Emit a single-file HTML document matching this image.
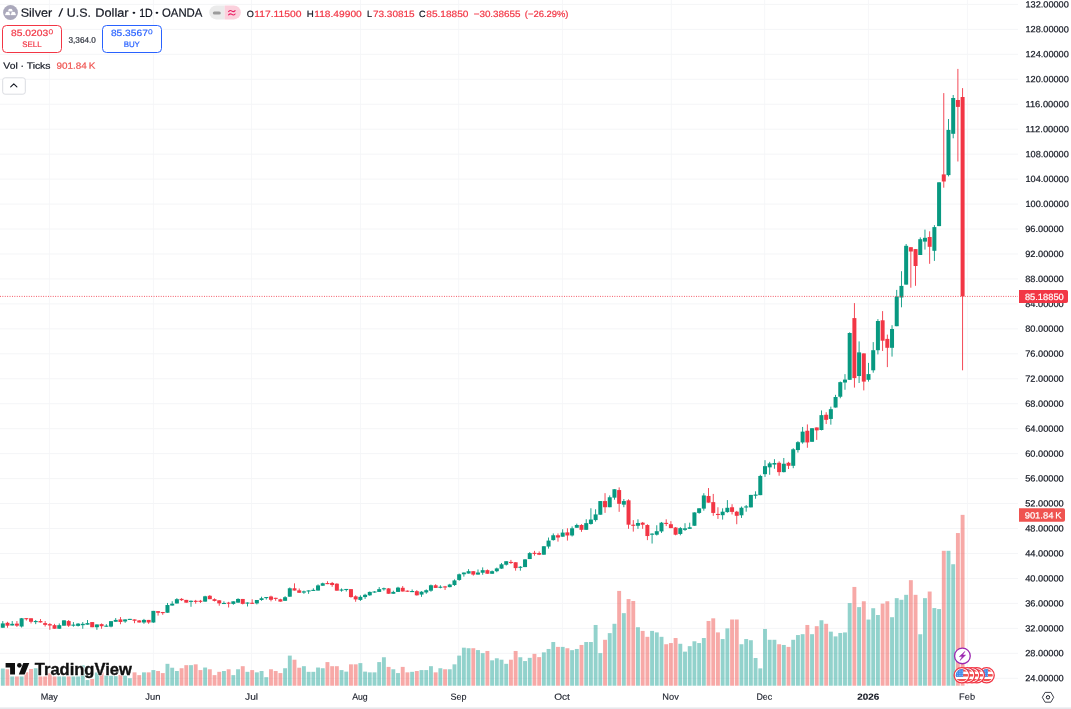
<!DOCTYPE html>
<html><head><meta charset="utf-8"><title>Silver / U.S. Dollar</title>
<style>html,body{margin:0;padding:0;background:#fff;overflow:hidden}svg{display:block;filter:blur(0.3px)}</style>
</head><body>
<svg width="1071" height="709" viewBox="0 0 1071 709" font-family="'Liberation Sans', Arial, sans-serif">
<rect width="1071" height="709" fill="#fff"/>
<g stroke="#f4f5f7" stroke-width="1">
<line x1="49.4" y1="0" x2="49.4" y2="685.7" stroke="#f6f7f9"/>
<line x1="153.4" y1="0" x2="153.4" y2="685.7" stroke="#f6f7f9"/>
<line x1="251.6" y1="0" x2="251.6" y2="685.7" stroke="#f6f7f9"/>
<line x1="360.5" y1="0" x2="360.5" y2="685.7" stroke="#f6f7f9"/>
<line x1="458.7" y1="0" x2="458.7" y2="685.7" stroke="#f6f7f9"/>
<line x1="562.4" y1="0" x2="562.4" y2="685.7" stroke="#f6f7f9"/>
<line x1="671.3" y1="0" x2="671.3" y2="685.7" stroke="#f6f7f9"/>
<line x1="764.7" y1="0" x2="764.7" y2="685.7" stroke="#f6f7f9"/>
<line x1="868.4" y1="0" x2="868.4" y2="685.7" stroke="#f6f7f9"/>
<line x1="967.4" y1="0" x2="967.4" y2="685.7" stroke="#f6f7f9"/>
<line x1="0" y1="4.4" x2="1018" y2="4.4"/>
<line x1="0" y1="29.36" x2="1018" y2="29.36"/>
<line x1="0" y1="54.32" x2="1018" y2="54.32"/>
<line x1="0" y1="79.28" x2="1018" y2="79.28"/>
<line x1="0" y1="104.24" x2="1018" y2="104.24"/>
<line x1="0" y1="129.19" x2="1018" y2="129.19"/>
<line x1="0" y1="154.15" x2="1018" y2="154.15"/>
<line x1="0" y1="179.11" x2="1018" y2="179.11"/>
<line x1="0" y1="204.07" x2="1018" y2="204.07"/>
<line x1="0" y1="229.03" x2="1018" y2="229.03"/>
<line x1="0" y1="253.99" x2="1018" y2="253.99"/>
<line x1="0" y1="278.95" x2="1018" y2="278.95"/>
<line x1="0" y1="303.91" x2="1018" y2="303.91"/>
<line x1="0" y1="328.87" x2="1018" y2="328.87"/>
<line x1="0" y1="353.83" x2="1018" y2="353.83"/>
<line x1="0" y1="378.78" x2="1018" y2="378.78"/>
<line x1="0" y1="403.74" x2="1018" y2="403.74"/>
<line x1="0" y1="428.7" x2="1018" y2="428.7"/>
<line x1="0" y1="453.66" x2="1018" y2="453.66"/>
<line x1="0" y1="478.62" x2="1018" y2="478.62"/>
<line x1="0" y1="503.58" x2="1018" y2="503.58"/>
<line x1="0" y1="528.54" x2="1018" y2="528.54"/>
<line x1="0" y1="553.5" x2="1018" y2="553.5"/>
<line x1="0" y1="578.46" x2="1018" y2="578.46"/>
<line x1="0" y1="603.42" x2="1018" y2="603.42"/>
<line x1="0" y1="628.38" x2="1018" y2="628.38"/>
<line x1="0" y1="653.33" x2="1018" y2="653.33"/>
<line x1="0" y1="678.29" x2="1018" y2="678.29"/>
</g>
<g>
<rect x="0.85" y="668.55" width="3.9" height="17.15" fill="rgba(38,166,154,0.5)"/>
<rect x="5.55" y="669.27" width="3.9" height="16.43" fill="rgba(239,83,80,0.5)"/>
<rect x="10.26" y="676.46" width="3.9" height="9.24" fill="rgba(38,166,154,0.5)"/>
<rect x="14.96" y="676.46" width="3.9" height="9.24" fill="rgba(239,83,80,0.5)"/>
<rect x="19.67" y="676.46" width="3.9" height="9.24" fill="rgba(38,166,154,0.5)"/>
<rect x="24.37" y="672.2" width="3.9" height="13.5" fill="rgba(239,83,80,0.5)"/>
<rect x="29.08" y="668.96" width="3.9" height="16.74" fill="rgba(239,83,80,0.5)"/>
<rect x="33.78" y="668.24" width="3.9" height="17.46" fill="rgba(38,166,154,0.5)"/>
<rect x="38.49" y="676.46" width="3.9" height="9.24" fill="rgba(239,83,80,0.5)"/>
<rect x="43.19" y="676.46" width="3.9" height="9.24" fill="rgba(239,83,80,0.5)"/>
<rect x="47.9" y="673.3" width="3.9" height="12.4" fill="rgba(239,83,80,0.5)"/>
<rect x="52.6" y="676.46" width="3.9" height="9.24" fill="rgba(239,83,80,0.5)"/>
<rect x="57.31" y="676.46" width="3.9" height="9.24" fill="rgba(38,166,154,0.5)"/>
<rect x="62.01" y="676.46" width="3.9" height="9.24" fill="rgba(38,166,154,0.5)"/>
<rect x="66.72" y="676.46" width="3.9" height="9.24" fill="rgba(239,83,80,0.5)"/>
<rect x="71.42" y="676.46" width="3.9" height="9.24" fill="rgba(38,166,154,0.5)"/>
<rect x="76.13" y="676.46" width="3.9" height="9.24" fill="rgba(38,166,154,0.5)"/>
<rect x="80.83" y="665.3" width="3.9" height="20.4" fill="rgba(38,166,154,0.5)"/>
<rect x="85.54" y="680.06" width="3.9" height="5.64" fill="rgba(38,166,154,0.5)"/>
<rect x="90.24" y="679.03" width="3.9" height="6.67" fill="rgba(239,83,80,0.5)"/>
<rect x="94.95" y="672.5" width="3.9" height="13.2" fill="rgba(38,166,154,0.5)"/>
<rect x="99.65" y="672.5" width="3.9" height="13.2" fill="rgba(239,83,80,0.5)"/>
<rect x="104.36" y="675.5" width="3.9" height="10.2" fill="rgba(38,166,154,0.5)"/>
<rect x="109.06" y="675.74" width="3.9" height="9.96" fill="rgba(38,166,154,0.5)"/>
<rect x="113.77" y="676.15" width="3.9" height="9.55" fill="rgba(38,166,154,0.5)"/>
<rect x="118.47" y="674.9" width="3.9" height="10.8" fill="rgba(239,83,80,0.5)"/>
<rect x="123.18" y="675.6" width="3.9" height="10.1" fill="rgba(38,166,154,0.5)"/>
<rect x="127.88" y="678.21" width="3.9" height="7.49" fill="rgba(38,166,154,0.5)"/>
<rect x="132.59" y="672.35" width="3.9" height="13.35" fill="rgba(239,83,80,0.5)"/>
<rect x="137.29" y="675.13" width="3.9" height="10.57" fill="rgba(239,83,80,0.5)"/>
<rect x="142" y="672.35" width="3.9" height="13.35" fill="rgba(38,166,154,0.5)"/>
<rect x="146.7" y="672.35" width="3.9" height="13.35" fill="rgba(239,83,80,0.5)"/>
<rect x="151.41" y="670.09" width="3.9" height="15.61" fill="rgba(38,166,154,0.5)"/>
<rect x="156.11" y="671.02" width="3.9" height="14.68" fill="rgba(239,83,80,0.5)"/>
<rect x="160.82" y="673.07" width="3.9" height="12.63" fill="rgba(239,83,80,0.5)"/>
<rect x="165.52" y="663.83" width="3.9" height="21.87" fill="rgba(38,166,154,0.5)"/>
<rect x="170.23" y="667.73" width="3.9" height="17.97" fill="rgba(38,166,154,0.5)"/>
<rect x="174.93" y="671.02" width="3.9" height="14.68" fill="rgba(38,166,154,0.5)"/>
<rect x="179.64" y="668.24" width="3.9" height="17.46" fill="rgba(239,83,80,0.5)"/>
<rect x="184.34" y="665.16" width="3.9" height="20.54" fill="rgba(239,83,80,0.5)"/>
<rect x="189.05" y="665.16" width="3.9" height="20.54" fill="rgba(38,166,154,0.5)"/>
<rect x="193.75" y="664.34" width="3.9" height="21.36" fill="rgba(239,83,80,0.5)"/>
<rect x="198.46" y="670.09" width="3.9" height="15.61" fill="rgba(239,83,80,0.5)"/>
<rect x="203.16" y="667.53" width="3.9" height="18.17" fill="rgba(38,166,154,0.5)"/>
<rect x="207.87" y="669.27" width="3.9" height="16.43" fill="rgba(239,83,80,0.5)"/>
<rect x="212.57" y="675.13" width="3.9" height="10.57" fill="rgba(239,83,80,0.5)"/>
<rect x="217.28" y="671.84" width="3.9" height="13.86" fill="rgba(239,83,80,0.5)"/>
<rect x="221.98" y="671.02" width="3.9" height="14.68" fill="rgba(38,166,154,0.5)"/>
<rect x="226.69" y="669.27" width="3.9" height="16.43" fill="rgba(239,83,80,0.5)"/>
<rect x="231.39" y="675.13" width="3.9" height="10.57" fill="rgba(38,166,154,0.5)"/>
<rect x="236.1" y="669.27" width="3.9" height="16.43" fill="rgba(38,166,154,0.5)"/>
<rect x="240.8" y="666.19" width="3.9" height="19.51" fill="rgba(239,83,80,0.5)"/>
<rect x="245.5" y="671.84" width="3.9" height="13.86" fill="rgba(38,166,154,0.5)"/>
<rect x="250.21" y="670.09" width="3.9" height="15.61" fill="rgba(239,83,80,0.5)"/>
<rect x="254.91" y="672.35" width="3.9" height="13.35" fill="rgba(38,166,154,0.5)"/>
<rect x="259.62" y="671.02" width="3.9" height="14.68" fill="rgba(38,166,154,0.5)"/>
<rect x="264.32" y="677.18" width="3.9" height="8.52" fill="rgba(38,166,154,0.5)"/>
<rect x="269.03" y="669.27" width="3.9" height="16.43" fill="rgba(239,83,80,0.5)"/>
<rect x="273.73" y="671.02" width="3.9" height="14.68" fill="rgba(239,83,80,0.5)"/>
<rect x="278.44" y="673.07" width="3.9" height="12.63" fill="rgba(239,83,80,0.5)"/>
<rect x="283.14" y="668.24" width="3.9" height="17.46" fill="rgba(38,166,154,0.5)"/>
<rect x="287.85" y="655.61" width="3.9" height="30.09" fill="rgba(38,166,154,0.5)"/>
<rect x="292.55" y="659.72" width="3.9" height="25.98" fill="rgba(239,83,80,0.5)"/>
<rect x="297.26" y="667.73" width="3.9" height="17.97" fill="rgba(239,83,80,0.5)"/>
<rect x="301.96" y="666.19" width="3.9" height="19.51" fill="rgba(38,166,154,0.5)"/>
<rect x="306.67" y="671.84" width="3.9" height="13.86" fill="rgba(38,166,154,0.5)"/>
<rect x="311.37" y="671.84" width="3.9" height="13.86" fill="rgba(38,166,154,0.5)"/>
<rect x="316.08" y="667.53" width="3.9" height="18.17" fill="rgba(38,166,154,0.5)"/>
<rect x="320.78" y="668.24" width="3.9" height="17.46" fill="rgba(38,166,154,0.5)"/>
<rect x="325.49" y="662.08" width="3.9" height="23.62" fill="rgba(239,83,80,0.5)"/>
<rect x="330.19" y="666.19" width="3.9" height="19.51" fill="rgba(239,83,80,0.5)"/>
<rect x="334.9" y="666.19" width="3.9" height="19.51" fill="rgba(239,83,80,0.5)"/>
<rect x="339.6" y="670.09" width="3.9" height="15.61" fill="rgba(38,166,154,0.5)"/>
<rect x="344.31" y="671.63" width="3.9" height="14.07" fill="rgba(38,166,154,0.5)"/>
<rect x="349.01" y="664.34" width="3.9" height="21.36" fill="rgba(239,83,80,0.5)"/>
<rect x="353.72" y="664.34" width="3.9" height="21.36" fill="rgba(239,83,80,0.5)"/>
<rect x="358.42" y="663.11" width="3.9" height="22.59" fill="rgba(38,166,154,0.5)"/>
<rect x="363.13" y="671.63" width="3.9" height="14.07" fill="rgba(38,166,154,0.5)"/>
<rect x="367.83" y="672.35" width="3.9" height="13.35" fill="rgba(38,166,154,0.5)"/>
<rect x="372.54" y="672.35" width="3.9" height="13.35" fill="rgba(38,166,154,0.5)"/>
<rect x="377.24" y="662.08" width="3.9" height="23.62" fill="rgba(38,166,154,0.5)"/>
<rect x="381.95" y="657.25" width="3.9" height="28.45" fill="rgba(38,166,154,0.5)"/>
<rect x="386.65" y="666.91" width="3.9" height="18.79" fill="rgba(239,83,80,0.5)"/>
<rect x="391.36" y="669.27" width="3.9" height="16.43" fill="rgba(38,166,154,0.5)"/>
<rect x="396.06" y="673.07" width="3.9" height="12.63" fill="rgba(38,166,154,0.5)"/>
<rect x="400.77" y="666.91" width="3.9" height="18.79" fill="rgba(239,83,80,0.5)"/>
<rect x="405.47" y="672.35" width="3.9" height="13.35" fill="rgba(239,83,80,0.5)"/>
<rect x="410.18" y="671.84" width="3.9" height="13.86" fill="rgba(38,166,154,0.5)"/>
<rect x="414.88" y="671.02" width="3.9" height="14.68" fill="rgba(239,83,80,0.5)"/>
<rect x="419.59" y="670.09" width="3.9" height="15.61" fill="rgba(38,166,154,0.5)"/>
<rect x="424.29" y="670.09" width="3.9" height="15.61" fill="rgba(38,166,154,0.5)"/>
<rect x="429" y="666.19" width="3.9" height="19.51" fill="rgba(38,166,154,0.5)"/>
<rect x="433.7" y="672.35" width="3.9" height="13.35" fill="rgba(239,83,80,0.5)"/>
<rect x="438.41" y="668.24" width="3.9" height="17.46" fill="rgba(38,166,154,0.5)"/>
<rect x="443.11" y="669.27" width="3.9" height="16.43" fill="rgba(239,83,80,0.5)"/>
<rect x="447.82" y="669.27" width="3.9" height="16.43" fill="rgba(38,166,154,0.5)"/>
<rect x="452.52" y="664.34" width="3.9" height="21.36" fill="rgba(38,166,154,0.5)"/>
<rect x="457.23" y="655.61" width="3.9" height="30.09" fill="rgba(38,166,154,0.5)"/>
<rect x="461.93" y="647.7" width="3.9" height="38" fill="rgba(38,166,154,0.5)"/>
<rect x="466.64" y="648.22" width="3.9" height="37.48" fill="rgba(38,166,154,0.5)"/>
<rect x="471.34" y="648.22" width="3.9" height="37.48" fill="rgba(239,83,80,0.5)"/>
<rect x="476.04" y="650.07" width="3.9" height="35.63" fill="rgba(38,166,154,0.5)"/>
<rect x="480.75" y="653.15" width="3.9" height="32.55" fill="rgba(38,166,154,0.5)"/>
<rect x="485.45" y="650.99" width="3.9" height="34.71" fill="rgba(239,83,80,0.5)"/>
<rect x="490.16" y="660.34" width="3.9" height="25.36" fill="rgba(38,166,154,0.5)"/>
<rect x="494.86" y="658.28" width="3.9" height="27.42" fill="rgba(38,166,154,0.5)"/>
<rect x="499.57" y="659.72" width="3.9" height="25.98" fill="rgba(38,166,154,0.5)"/>
<rect x="504.27" y="663.83" width="3.9" height="21.87" fill="rgba(38,166,154,0.5)"/>
<rect x="508.98" y="659.72" width="3.9" height="25.98" fill="rgba(239,83,80,0.5)"/>
<rect x="513.68" y="650.99" width="3.9" height="34.71" fill="rgba(239,83,80,0.5)"/>
<rect x="518.39" y="657.25" width="3.9" height="28.45" fill="rgba(38,166,154,0.5)"/>
<rect x="523.09" y="661.06" width="3.9" height="24.64" fill="rgba(38,166,154,0.5)"/>
<rect x="527.8" y="657.86" width="3.9" height="27.84" fill="rgba(38,166,154,0.5)"/>
<rect x="532.5" y="653.86" width="3.9" height="31.84" fill="rgba(239,83,80,0.5)"/>
<rect x="537.21" y="657.12" width="3.9" height="28.58" fill="rgba(239,83,80,0.5)"/>
<rect x="541.91" y="652.38" width="3.9" height="33.32" fill="rgba(38,166,154,0.5)"/>
<rect x="546.62" y="648.98" width="3.9" height="36.72" fill="rgba(38,166,154,0.5)"/>
<rect x="551.32" y="642.02" width="3.9" height="43.68" fill="rgba(38,166,154,0.5)"/>
<rect x="556.03" y="646.9" width="3.9" height="38.8" fill="rgba(239,83,80,0.5)"/>
<rect x="560.73" y="646.9" width="3.9" height="38.8" fill="rgba(38,166,154,0.5)"/>
<rect x="565.44" y="648.24" width="3.9" height="37.46" fill="rgba(239,83,80,0.5)"/>
<rect x="570.14" y="650.16" width="3.9" height="35.54" fill="rgba(38,166,154,0.5)"/>
<rect x="574.85" y="648.98" width="3.9" height="36.72" fill="rgba(38,166,154,0.5)"/>
<rect x="579.55" y="644.98" width="3.9" height="40.72" fill="rgba(239,83,80,0.5)"/>
<rect x="584.26" y="642.02" width="3.9" height="43.68" fill="rgba(38,166,154,0.5)"/>
<rect x="588.96" y="642.02" width="3.9" height="43.68" fill="rgba(38,166,154,0.5)"/>
<rect x="593.67" y="624.99" width="3.9" height="60.71" fill="rgba(38,166,154,0.5)"/>
<rect x="598.37" y="653.12" width="3.9" height="32.58" fill="rgba(38,166,154,0.5)"/>
<rect x="603.08" y="639.8" width="3.9" height="45.9" fill="rgba(239,83,80,0.5)"/>
<rect x="607.78" y="633.13" width="3.9" height="52.57" fill="rgba(38,166,154,0.5)"/>
<rect x="612.49" y="623.8" width="3.9" height="61.9" fill="rgba(38,166,154,0.5)"/>
<rect x="617.19" y="590.92" width="3.9" height="94.78" fill="rgba(239,83,80,0.5)"/>
<rect x="621.9" y="613.14" width="3.9" height="72.56" fill="rgba(38,166,154,0.5)"/>
<rect x="626.6" y="599.07" width="3.9" height="86.63" fill="rgba(239,83,80,0.5)"/>
<rect x="631.31" y="600.99" width="3.9" height="84.71" fill="rgba(239,83,80,0.5)"/>
<rect x="636.01" y="627.21" width="3.9" height="58.49" fill="rgba(38,166,154,0.5)"/>
<rect x="640.72" y="630.91" width="3.9" height="54.79" fill="rgba(239,83,80,0.5)"/>
<rect x="645.42" y="636.83" width="3.9" height="48.87" fill="rgba(239,83,80,0.5)"/>
<rect x="650.13" y="630.91" width="3.9" height="54.79" fill="rgba(38,166,154,0.5)"/>
<rect x="654.83" y="632.39" width="3.9" height="53.31" fill="rgba(38,166,154,0.5)"/>
<rect x="659.54" y="636.83" width="3.9" height="48.87" fill="rgba(38,166,154,0.5)"/>
<rect x="664.24" y="644.24" width="3.9" height="41.46" fill="rgba(239,83,80,0.5)"/>
<rect x="668.95" y="643.05" width="3.9" height="42.65" fill="rgba(239,83,80,0.5)"/>
<rect x="673.65" y="638.02" width="3.9" height="47.68" fill="rgba(239,83,80,0.5)"/>
<rect x="678.36" y="643.79" width="3.9" height="41.91" fill="rgba(38,166,154,0.5)"/>
<rect x="683.06" y="651.64" width="3.9" height="34.06" fill="rgba(38,166,154,0.5)"/>
<rect x="687.77" y="646.16" width="3.9" height="39.54" fill="rgba(38,166,154,0.5)"/>
<rect x="692.47" y="641.28" width="3.9" height="44.42" fill="rgba(38,166,154,0.5)"/>
<rect x="697.18" y="643.05" width="3.9" height="42.65" fill="rgba(38,166,154,0.5)"/>
<rect x="701.88" y="638.02" width="3.9" height="47.68" fill="rgba(38,166,154,0.5)"/>
<rect x="706.58" y="620.99" width="3.9" height="64.71" fill="rgba(239,83,80,0.5)"/>
<rect x="711.29" y="618.32" width="3.9" height="67.38" fill="rgba(239,83,80,0.5)"/>
<rect x="715.99" y="632.39" width="3.9" height="53.31" fill="rgba(239,83,80,0.5)"/>
<rect x="720.7" y="639.06" width="3.9" height="46.64" fill="rgba(38,166,154,0.5)"/>
<rect x="725.4" y="628.39" width="3.9" height="57.31" fill="rgba(38,166,154,0.5)"/>
<rect x="730.11" y="619.51" width="3.9" height="66.19" fill="rgba(239,83,80,0.5)"/>
<rect x="734.81" y="619.51" width="3.9" height="66.19" fill="rgba(239,83,80,0.5)"/>
<rect x="739.52" y="644.24" width="3.9" height="41.46" fill="rgba(38,166,154,0.5)"/>
<rect x="744.22" y="639.06" width="3.9" height="46.64" fill="rgba(38,166,154,0.5)"/>
<rect x="748.93" y="640.24" width="3.9" height="45.46" fill="rgba(38,166,154,0.5)"/>
<rect x="753.63" y="658.01" width="3.9" height="27.69" fill="rgba(38,166,154,0.5)"/>
<rect x="758.34" y="668.38" width="3.9" height="17.32" fill="rgba(38,166,154,0.5)"/>
<rect x="763.04" y="628.98" width="3.9" height="56.72" fill="rgba(38,166,154,0.5)"/>
<rect x="767.75" y="639.8" width="3.9" height="45.9" fill="rgba(38,166,154,0.5)"/>
<rect x="772.45" y="639.8" width="3.9" height="45.9" fill="rgba(38,166,154,0.5)"/>
<rect x="777.16" y="644.24" width="3.9" height="41.46" fill="rgba(239,83,80,0.5)"/>
<rect x="781.86" y="644.98" width="3.9" height="40.72" fill="rgba(38,166,154,0.5)"/>
<rect x="786.57" y="646.9" width="3.9" height="38.8" fill="rgba(239,83,80,0.5)"/>
<rect x="791.27" y="639.8" width="3.9" height="45.9" fill="rgba(38,166,154,0.5)"/>
<rect x="795.98" y="635.06" width="3.9" height="50.64" fill="rgba(38,166,154,0.5)"/>
<rect x="800.68" y="634.17" width="3.9" height="51.53" fill="rgba(38,166,154,0.5)"/>
<rect x="805.39" y="624.99" width="3.9" height="60.71" fill="rgba(239,83,80,0.5)"/>
<rect x="810.09" y="634.17" width="3.9" height="51.53" fill="rgba(38,166,154,0.5)"/>
<rect x="814.8" y="626.17" width="3.9" height="59.53" fill="rgba(239,83,80,0.5)"/>
<rect x="819.5" y="620.25" width="3.9" height="65.45" fill="rgba(38,166,154,0.5)"/>
<rect x="824.21" y="623.8" width="3.9" height="61.9" fill="rgba(239,83,80,0.5)"/>
<rect x="828.91" y="631.65" width="3.9" height="54.05" fill="rgba(38,166,154,0.5)"/>
<rect x="833.62" y="636.39" width="3.9" height="49.31" fill="rgba(38,166,154,0.5)"/>
<rect x="838.32" y="632.98" width="3.9" height="52.72" fill="rgba(38,166,154,0.5)"/>
<rect x="843.03" y="632.43" width="3.9" height="53.27" fill="rgba(38,166,154,0.5)"/>
<rect x="847.73" y="603.09" width="3.9" height="82.61" fill="rgba(38,166,154,0.5)"/>
<rect x="852.44" y="586.95" width="3.9" height="98.75" fill="rgba(239,83,80,0.5)"/>
<rect x="857.14" y="607.12" width="3.9" height="78.58" fill="rgba(38,166,154,0.5)"/>
<rect x="861.85" y="601.26" width="3.9" height="84.44" fill="rgba(239,83,80,0.5)"/>
<rect x="866.55" y="619.59" width="3.9" height="66.11" fill="rgba(38,166,154,0.5)"/>
<rect x="871.26" y="608.22" width="3.9" height="77.48" fill="rgba(38,166,154,0.5)"/>
<rect x="875.96" y="615.01" width="3.9" height="70.69" fill="rgba(38,166,154,0.5)"/>
<rect x="880.67" y="603.64" width="3.9" height="82.06" fill="rgba(239,83,80,0.5)"/>
<rect x="885.37" y="601.26" width="3.9" height="84.44" fill="rgba(239,83,80,0.5)"/>
<rect x="890.08" y="617.21" width="3.9" height="68.49" fill="rgba(38,166,154,0.5)"/>
<rect x="894.78" y="598.14" width="3.9" height="87.56" fill="rgba(38,166,154,0.5)"/>
<rect x="899.49" y="599.79" width="3.9" height="85.91" fill="rgba(38,166,154,0.5)"/>
<rect x="904.19" y="594.84" width="3.9" height="90.86" fill="rgba(38,166,154,0.5)"/>
<rect x="908.9" y="580.17" width="3.9" height="105.53" fill="rgba(239,83,80,0.5)"/>
<rect x="913.6" y="594.84" width="3.9" height="90.86" fill="rgba(239,83,80,0.5)"/>
<rect x="918.31" y="634.26" width="3.9" height="51.44" fill="rgba(38,166,154,0.5)"/>
<rect x="923.01" y="598.14" width="3.9" height="87.56" fill="rgba(38,166,154,0.5)"/>
<rect x="927.72" y="591.54" width="3.9" height="94.16" fill="rgba(239,83,80,0.5)"/>
<rect x="932.42" y="608.07" width="3.9" height="77.63" fill="rgba(38,166,154,0.5)"/>
<rect x="937.13" y="609.06" width="3.9" height="76.64" fill="rgba(38,166,154,0.5)"/>
<rect x="941.83" y="550.81" width="3.9" height="134.89" fill="rgba(239,83,80,0.5)"/>
<rect x="946.53" y="550.81" width="3.9" height="134.89" fill="rgba(38,166,154,0.5)"/>
<rect x="951.24" y="564.24" width="3.9" height="121.46" fill="rgba(38,166,154,0.5)"/>
<rect x="955.94" y="533.04" width="3.9" height="152.66" fill="rgba(239,83,80,0.5)"/>
<rect x="960.65" y="514.87" width="3.9" height="170.83" fill="rgba(239,83,80,0.5)"/>
</g>
<g>
<rect x="2.35" y="621.06" width="0.9" height="6.68" fill="#089981"/>
<rect x="0.8" y="623.42" width="4" height="4.31" fill="#089981"/>
<rect x="7.05" y="621.77" width="0.9" height="5.96" fill="#f23645"/>
<rect x="5.5" y="622.8" width="4" height="2.88" fill="#f23645"/>
<rect x="11.76" y="621.06" width="0.9" height="4.42" fill="#089981"/>
<rect x="10.21" y="623.83" width="4" height="1.64" fill="#089981"/>
<rect x="16.46" y="621.06" width="0.9" height="5.85" fill="#f23645"/>
<rect x="14.91" y="623.62" width="4" height="2.05" fill="#f23645"/>
<rect x="21.17" y="617.97" width="0.9" height="9.55" fill="#089981"/>
<rect x="19.62" y="618.28" width="4" height="8.22" fill="#089981"/>
<rect x="25.87" y="618.14" width="0.9" height="2.4" fill="#f23645"/>
<rect x="24.32" y="618.14" width="4" height="1.1" fill="#f23645"/>
<rect x="30.58" y="618.28" width="0.9" height="5.14" fill="#f23645"/>
<rect x="29.03" y="618.28" width="4" height="3.49" fill="#f23645"/>
<rect x="35.28" y="620.03" width="0.9" height="4.11" fill="#089981"/>
<rect x="33.73" y="621.02" width="4" height="1.1" fill="#089981"/>
<rect x="39.99" y="619" width="0.9" height="3.59" fill="#f23645"/>
<rect x="38.44" y="621.06" width="4" height="1.34" fill="#f23645"/>
<rect x="44.69" y="621.06" width="0.9" height="5.44" fill="#f23645"/>
<rect x="43.14" y="623.11" width="4" height="1.75" fill="#f23645"/>
<rect x="49.4" y="623.11" width="0.9" height="6.68" fill="#f23645"/>
<rect x="47.85" y="624.14" width="4" height="1.34" fill="#f23645"/>
<rect x="54.1" y="623.83" width="0.9" height="4.93" fill="#f23645"/>
<rect x="52.55" y="625.16" width="4" height="3.59" fill="#f23645"/>
<rect x="58.81" y="623.42" width="0.9" height="5.34" fill="#089981"/>
<rect x="57.26" y="625.16" width="4" height="3.59" fill="#089981"/>
<rect x="63.51" y="620.34" width="0.9" height="5.34" fill="#089981"/>
<rect x="61.96" y="620.34" width="4" height="5.34" fill="#089981"/>
<rect x="68.22" y="620.03" width="0.9" height="6.88" fill="#f23645"/>
<rect x="66.67" y="621.06" width="4" height="4.62" fill="#f23645"/>
<rect x="72.92" y="622.08" width="0.9" height="4.62" fill="#089981"/>
<rect x="71.37" y="624.61" width="4" height="1.1" fill="#089981"/>
<rect x="77.63" y="623.11" width="0.9" height="3.39" fill="#089981"/>
<rect x="76.08" y="623.62" width="4" height="2.26" fill="#089981"/>
<rect x="82.33" y="622.08" width="0.9" height="6.68" fill="#089981"/>
<rect x="80.78" y="623.83" width="4" height="1.34" fill="#089981"/>
<rect x="87.04" y="620.03" width="0.9" height="4.62" fill="#089981"/>
<rect x="85.49" y="623.11" width="4" height="1.54" fill="#089981"/>
<rect x="91.74" y="622.08" width="0.9" height="5.14" fill="#f23645"/>
<rect x="90.19" y="622.08" width="4" height="5.14" fill="#f23645"/>
<rect x="96.45" y="624.44" width="0.9" height="5.34" fill="#089981"/>
<rect x="94.9" y="624.44" width="4" height="2.77" fill="#089981"/>
<rect x="101.15" y="623.42" width="0.9" height="5.34" fill="#f23645"/>
<rect x="99.6" y="624.14" width="4" height="2.05" fill="#f23645"/>
<rect x="105.86" y="624.14" width="0.9" height="2.6" fill="#089981"/>
<rect x="104.31" y="625.64" width="4" height="1.1" fill="#089981"/>
<rect x="110.56" y="621.15" width="0.9" height="6.16" fill="#089981"/>
<rect x="109.01" y="621.15" width="4" height="5.44" fill="#089981"/>
<rect x="115.27" y="618.07" width="0.9" height="3.7" fill="#089981"/>
<rect x="113.72" y="619.92" width="4" height="1.85" fill="#089981"/>
<rect x="119.97" y="617.04" width="0.9" height="7.19" fill="#f23645"/>
<rect x="118.42" y="619.41" width="4" height="2.57" fill="#f23645"/>
<rect x="124.68" y="619.41" width="0.9" height="3.39" fill="#089981"/>
<rect x="123.13" y="619.41" width="4" height="2.05" fill="#089981"/>
<rect x="129.38" y="618.86" width="0.9" height="1.1" fill="#089981"/>
<rect x="127.83" y="618.86" width="4" height="1.1" fill="#089981"/>
<rect x="134.09" y="619.41" width="0.9" height="3.8" fill="#f23645"/>
<rect x="132.54" y="619.41" width="4" height="1.34" fill="#f23645"/>
<rect x="138.79" y="620.13" width="0.9" height="2.36" fill="#f23645"/>
<rect x="137.24" y="620.43" width="4" height="2.05" fill="#f23645"/>
<rect x="143.5" y="618.89" width="0.9" height="4.93" fill="#089981"/>
<rect x="141.95" y="619.92" width="4" height="2.57" fill="#089981"/>
<rect x="148.2" y="619.92" width="0.9" height="3.9" fill="#f23645"/>
<rect x="146.65" y="619.92" width="4" height="2.57" fill="#f23645"/>
<rect x="152.91" y="610.88" width="0.9" height="11.91" fill="#089981"/>
<rect x="151.36" y="610.88" width="4" height="11.61" fill="#089981"/>
<rect x="157.61" y="611.19" width="0.9" height="4.42" fill="#f23645"/>
<rect x="156.06" y="611.19" width="4" height="1.54" fill="#f23645"/>
<rect x="162.32" y="611.91" width="0.9" height="2.88" fill="#f23645"/>
<rect x="160.77" y="612.03" width="4" height="1.1" fill="#f23645"/>
<rect x="167.02" y="602.97" width="0.9" height="9.76" fill="#089981"/>
<rect x="165.47" y="605.03" width="4" height="7.7" fill="#089981"/>
<rect x="171.73" y="601.23" width="0.9" height="4.31" fill="#089981"/>
<rect x="170.18" y="603.69" width="4" height="1.85" fill="#089981"/>
<rect x="176.43" y="598.15" width="0.9" height="5.34" fill="#089981"/>
<rect x="174.88" y="599.17" width="4" height="4.31" fill="#089981"/>
<rect x="181.14" y="598.15" width="0.9" height="2.77" fill="#f23645"/>
<rect x="179.59" y="598.87" width="4" height="1.34" fill="#f23645"/>
<rect x="185.84" y="599.89" width="0.9" height="2.77" fill="#f23645"/>
<rect x="184.29" y="599.89" width="4" height="2.77" fill="#f23645"/>
<rect x="190.55" y="600.41" width="0.9" height="6.37" fill="#089981"/>
<rect x="189" y="600.78" width="4" height="1.1" fill="#089981"/>
<rect x="195.25" y="599.89" width="0.9" height="3.8" fill="#f23645"/>
<rect x="193.7" y="600.78" width="4" height="1.1" fill="#f23645"/>
<rect x="199.96" y="599.89" width="0.9" height="3.08" fill="#f23645"/>
<rect x="198.41" y="600.73" width="4" height="1.1" fill="#f23645"/>
<rect x="204.66" y="595.78" width="0.9" height="5.85" fill="#089981"/>
<rect x="203.11" y="596.3" width="4" height="5.34" fill="#089981"/>
<rect x="209.37" y="595.07" width="0.9" height="4.11" fill="#f23645"/>
<rect x="207.82" y="595.78" width="4" height="3.39" fill="#f23645"/>
<rect x="214.07" y="598.35" width="0.9" height="3.08" fill="#f23645"/>
<rect x="212.52" y="599.17" width="4" height="1.75" fill="#f23645"/>
<rect x="218.78" y="600.3" width="0.9" height="5.44" fill="#f23645"/>
<rect x="217.23" y="600.3" width="4" height="3.08" fill="#f23645"/>
<rect x="223.48" y="601.33" width="0.9" height="2.71" fill="#089981"/>
<rect x="221.93" y="602.93" width="4" height="1.1" fill="#089981"/>
<rect x="228.19" y="601.84" width="0.9" height="5.65" fill="#f23645"/>
<rect x="226.64" y="602.62" width="4" height="1.1" fill="#f23645"/>
<rect x="232.89" y="601.33" width="0.9" height="3.39" fill="#089981"/>
<rect x="231.34" y="601.33" width="4" height="2.57" fill="#089981"/>
<rect x="237.6" y="598.24" width="0.9" height="4.42" fill="#089981"/>
<rect x="236.05" y="598.96" width="4" height="3.7" fill="#089981"/>
<rect x="242.3" y="598.96" width="0.9" height="5.44" fill="#f23645"/>
<rect x="240.75" y="598.96" width="4" height="4.93" fill="#f23645"/>
<rect x="247" y="602.35" width="0.9" height="4.11" fill="#089981"/>
<rect x="245.45" y="602.52" width="4" height="1.1" fill="#089981"/>
<rect x="251.71" y="599.27" width="0.9" height="4.62" fill="#f23645"/>
<rect x="250.16" y="602.73" width="4" height="1.1" fill="#f23645"/>
<rect x="256.41" y="599.99" width="0.9" height="4.42" fill="#089981"/>
<rect x="254.86" y="599.99" width="4" height="3.39" fill="#089981"/>
<rect x="261.12" y="596.7" width="0.9" height="4.11" fill="#089981"/>
<rect x="259.57" y="598.24" width="4" height="1.75" fill="#089981"/>
<rect x="265.82" y="597.03" width="0.9" height="2.55" fill="#089981"/>
<rect x="264.27" y="597.03" width="4" height="1.1" fill="#089981"/>
<rect x="270.53" y="595.68" width="0.9" height="5.65" fill="#f23645"/>
<rect x="268.98" y="596.5" width="4" height="3.29" fill="#f23645"/>
<rect x="275.23" y="597.8" width="0.9" height="3.01" fill="#f23645"/>
<rect x="273.68" y="597.8" width="4" height="1.1" fill="#f23645"/>
<rect x="279.94" y="598.76" width="0.9" height="2.88" fill="#f23645"/>
<rect x="278.39" y="599.27" width="4" height="2.36" fill="#f23645"/>
<rect x="284.64" y="596.19" width="0.9" height="4.62" fill="#089981"/>
<rect x="283.09" y="597.22" width="4" height="3.59" fill="#089981"/>
<rect x="289.35" y="587.46" width="0.9" height="9.24" fill="#089981"/>
<rect x="287.8" y="588.28" width="4" height="8.42" fill="#089981"/>
<rect x="294.05" y="583.35" width="0.9" height="7.19" fill="#f23645"/>
<rect x="292.5" y="588.28" width="4" height="2.26" fill="#f23645"/>
<rect x="298.76" y="588.49" width="0.9" height="4.31" fill="#f23645"/>
<rect x="297.21" y="590.34" width="4" height="2.46" fill="#f23645"/>
<rect x="303.46" y="590.54" width="0.9" height="3.29" fill="#089981"/>
<rect x="301.91" y="591.36" width="4" height="1.23" fill="#089981"/>
<rect x="308.17" y="590.4" width="0.9" height="3.43" fill="#089981"/>
<rect x="306.62" y="590.4" width="4" height="1.1" fill="#089981"/>
<rect x="312.87" y="588.28" width="0.9" height="2.66" fill="#089981"/>
<rect x="311.32" y="589.84" width="4" height="1.1" fill="#089981"/>
<rect x="317.58" y="584.38" width="0.9" height="6.16" fill="#089981"/>
<rect x="316.03" y="585.41" width="4" height="5.14" fill="#089981"/>
<rect x="322.28" y="582.67" width="0.9" height="3.08" fill="#089981"/>
<rect x="320.73" y="583.28" width="4" height="2.46" fill="#089981"/>
<rect x="326.99" y="581.23" width="0.9" height="2.91" fill="#f23645"/>
<rect x="325.44" y="583.04" width="4" height="1.1" fill="#f23645"/>
<rect x="331.69" y="581.95" width="0.9" height="4.83" fill="#f23645"/>
<rect x="330.14" y="582.97" width="4" height="2.05" fill="#f23645"/>
<rect x="336.4" y="583.28" width="0.9" height="7.39" fill="#f23645"/>
<rect x="334.85" y="583.69" width="4" height="6.98" fill="#f23645"/>
<rect x="341.1" y="588.42" width="0.9" height="3.29" fill="#089981"/>
<rect x="339.55" y="589.51" width="4" height="1.1" fill="#089981"/>
<rect x="345.81" y="588.95" width="0.9" height="2.55" fill="#089981"/>
<rect x="344.26" y="588.95" width="4" height="1.1" fill="#089981"/>
<rect x="350.51" y="589.14" width="0.9" height="8.52" fill="#f23645"/>
<rect x="348.96" y="589.14" width="4" height="7.91" fill="#f23645"/>
<rect x="355.22" y="595.3" width="0.9" height="6.47" fill="#f23645"/>
<rect x="353.67" y="596.33" width="4" height="3.08" fill="#f23645"/>
<rect x="359.92" y="595.3" width="0.9" height="5.65" fill="#089981"/>
<rect x="358.37" y="596.84" width="4" height="3.08" fill="#089981"/>
<rect x="364.63" y="593.76" width="0.9" height="5.14" fill="#089981"/>
<rect x="363.08" y="594.79" width="4" height="2.26" fill="#089981"/>
<rect x="369.33" y="591.5" width="0.9" height="4.31" fill="#089981"/>
<rect x="367.78" y="591.91" width="4" height="3.39" fill="#089981"/>
<rect x="374.04" y="591.19" width="0.9" height="1.54" fill="#089981"/>
<rect x="372.49" y="591.46" width="4" height="1.1" fill="#089981"/>
<rect x="378.74" y="587.08" width="0.9" height="4.83" fill="#089981"/>
<rect x="377.19" y="589.14" width="4" height="2.77" fill="#089981"/>
<rect x="383.45" y="587.6" width="0.9" height="3.08" fill="#089981"/>
<rect x="381.9" y="588.23" width="4" height="1.1" fill="#089981"/>
<rect x="388.15" y="588.11" width="0.9" height="5.65" fill="#f23645"/>
<rect x="386.6" y="588.42" width="4" height="5.34" fill="#f23645"/>
<rect x="392.86" y="590.68" width="0.9" height="3.08" fill="#089981"/>
<rect x="391.31" y="591.91" width="4" height="1.85" fill="#089981"/>
<rect x="397.56" y="586.77" width="0.9" height="5.14" fill="#089981"/>
<rect x="396.01" y="587.6" width="4" height="4.31" fill="#089981"/>
<rect x="402.27" y="586.06" width="0.9" height="5.44" fill="#f23645"/>
<rect x="400.72" y="587.8" width="4" height="3.7" fill="#f23645"/>
<rect x="406.97" y="590.47" width="0.9" height="1.44" fill="#f23645"/>
<rect x="405.42" y="590.64" width="4" height="1.1" fill="#f23645"/>
<rect x="411.68" y="589.44" width="0.9" height="2.66" fill="#089981"/>
<rect x="410.13" y="591" width="4" height="1.1" fill="#089981"/>
<rect x="416.38" y="590.16" width="0.9" height="5.44" fill="#f23645"/>
<rect x="414.83" y="591.19" width="4" height="4.11" fill="#f23645"/>
<rect x="421.09" y="591.19" width="0.9" height="5.65" fill="#089981"/>
<rect x="419.54" y="591.7" width="4" height="2.88" fill="#089981"/>
<rect x="425.79" y="589.37" width="0.9" height="4.42" fill="#089981"/>
<rect x="424.24" y="590.19" width="4" height="2.26" fill="#089981"/>
<rect x="430.5" y="584.54" width="0.9" height="7.19" fill="#089981"/>
<rect x="428.95" y="585.26" width="4" height="5.44" fill="#089981"/>
<rect x="435.2" y="584.23" width="0.9" height="3.7" fill="#f23645"/>
<rect x="433.65" y="585.26" width="4" height="2.67" fill="#f23645"/>
<rect x="439.91" y="585.26" width="0.9" height="3.08" fill="#089981"/>
<rect x="438.36" y="586.71" width="4" height="1.1" fill="#089981"/>
<rect x="444.61" y="585.88" width="0.9" height="4.11" fill="#f23645"/>
<rect x="443.06" y="586.41" width="4" height="1.1" fill="#f23645"/>
<rect x="449.32" y="583.82" width="0.9" height="3.49" fill="#089981"/>
<rect x="447.77" y="584.54" width="4" height="2.57" fill="#089981"/>
<rect x="454.02" y="579.41" width="0.9" height="6.47" fill="#089981"/>
<rect x="452.47" y="580.43" width="4" height="4.62" fill="#089981"/>
<rect x="458.73" y="573.55" width="0.9" height="7.19" fill="#089981"/>
<rect x="457.18" y="574.27" width="4" height="5.65" fill="#089981"/>
<rect x="463.43" y="572.53" width="0.9" height="4.11" fill="#089981"/>
<rect x="461.88" y="572.53" width="4" height="1.75" fill="#089981"/>
<rect x="468.14" y="569.14" width="0.9" height="4.42" fill="#089981"/>
<rect x="466.59" y="571.19" width="4" height="2.36" fill="#089981"/>
<rect x="472.84" y="571.19" width="0.9" height="4.42" fill="#f23645"/>
<rect x="471.29" y="571.19" width="4" height="3.39" fill="#f23645"/>
<rect x="477.54" y="569.44" width="0.9" height="5.14" fill="#089981"/>
<rect x="475.99" y="572.53" width="4" height="2.05" fill="#089981"/>
<rect x="482.25" y="567.39" width="0.9" height="7.39" fill="#089981"/>
<rect x="480.7" y="570.16" width="4" height="2.57" fill="#089981"/>
<rect x="486.95" y="569.44" width="0.9" height="4.31" fill="#f23645"/>
<rect x="485.4" y="570.16" width="4" height="3.59" fill="#f23645"/>
<rect x="491.66" y="570.47" width="0.9" height="3.29" fill="#089981"/>
<rect x="490.11" y="571.19" width="4" height="2.57" fill="#089981"/>
<rect x="496.36" y="567.6" width="0.9" height="4.62" fill="#089981"/>
<rect x="494.81" y="568.42" width="4" height="2.77" fill="#089981"/>
<rect x="501.07" y="562.97" width="0.9" height="5.85" fill="#089981"/>
<rect x="499.52" y="564.31" width="4" height="4.31" fill="#089981"/>
<rect x="505.77" y="561.23" width="0.9" height="4.31" fill="#089981"/>
<rect x="504.22" y="561.23" width="4" height="3.49" fill="#089981"/>
<rect x="510.48" y="559.89" width="0.9" height="4.11" fill="#f23645"/>
<rect x="508.93" y="561.91" width="4" height="1.1" fill="#f23645"/>
<rect x="515.18" y="562.25" width="0.9" height="8.42" fill="#f23645"/>
<rect x="513.63" y="562.25" width="4" height="5.85" fill="#f23645"/>
<rect x="519.89" y="566.06" width="0.9" height="4.62" fill="#089981"/>
<rect x="518.34" y="566.74" width="4" height="1.1" fill="#089981"/>
<rect x="524.59" y="559.17" width="0.9" height="7.91" fill="#089981"/>
<rect x="523.04" y="559.38" width="4" height="7.7" fill="#089981"/>
<rect x="529.3" y="552.11" width="0.9" height="6.94" fill="#089981"/>
<rect x="527.75" y="553.12" width="4" height="5.92" fill="#089981"/>
<rect x="534" y="550.86" width="0.9" height="4.79" fill="#f23645"/>
<rect x="532.45" y="552.8" width="4" height="1.1" fill="#f23645"/>
<rect x="538.71" y="551.43" width="0.9" height="3.67" fill="#f23645"/>
<rect x="537.16" y="553.01" width="4" height="1.69" fill="#f23645"/>
<rect x="543.41" y="546.24" width="0.9" height="8.46" fill="#089981"/>
<rect x="541.86" y="546.24" width="4" height="8.46" fill="#089981"/>
<rect x="548.12" y="537.52" width="0.9" height="11.09" fill="#089981"/>
<rect x="546.57" y="540.6" width="4" height="5.96" fill="#089981"/>
<rect x="552.82" y="533.41" width="0.9" height="7.19" fill="#089981"/>
<rect x="551.27" y="535.26" width="4" height="4.83" fill="#089981"/>
<rect x="557.53" y="533.41" width="0.9" height="8.22" fill="#f23645"/>
<rect x="555.98" y="535.26" width="4" height="2.26" fill="#f23645"/>
<rect x="562.23" y="529.3" width="0.9" height="7.39" fill="#089981"/>
<rect x="560.68" y="532.59" width="4" height="4.11" fill="#089981"/>
<rect x="566.94" y="528.27" width="0.9" height="12.32" fill="#f23645"/>
<rect x="565.39" y="532.38" width="4" height="3.08" fill="#f23645"/>
<rect x="571.64" y="526.42" width="0.9" height="10.07" fill="#089981"/>
<rect x="570.09" y="528.27" width="4" height="7.19" fill="#089981"/>
<rect x="576.35" y="523.65" width="0.9" height="4.11" fill="#089981"/>
<rect x="574.8" y="524.99" width="4" height="2.77" fill="#089981"/>
<rect x="581.05" y="524.16" width="0.9" height="7.7" fill="#f23645"/>
<rect x="579.5" y="524.99" width="4" height="4.83" fill="#f23645"/>
<rect x="585.76" y="519.23" width="0.9" height="10.58" fill="#089981"/>
<rect x="584.21" y="523.14" width="4" height="6.68" fill="#089981"/>
<rect x="590.46" y="508.24" width="0.9" height="16.43" fill="#089981"/>
<rect x="588.91" y="519.54" width="4" height="4.42" fill="#089981"/>
<rect x="595.17" y="509.27" width="0.9" height="12.32" fill="#089981"/>
<rect x="593.62" y="514.41" width="4" height="5.65" fill="#089981"/>
<rect x="599.87" y="501.06" width="0.9" height="13.66" fill="#089981"/>
<rect x="598.32" y="501.06" width="4" height="13.66" fill="#089981"/>
<rect x="604.58" y="493.15" width="0.9" height="19.72" fill="#f23645"/>
<rect x="603.03" y="501.06" width="4" height="6.16" fill="#f23645"/>
<rect x="609.28" y="495.41" width="0.9" height="11.81" fill="#089981"/>
<rect x="607.73" y="497.25" width="4" height="9.96" fill="#089981"/>
<rect x="613.99" y="489.24" width="0.9" height="10.48" fill="#089981"/>
<rect x="612.44" y="489.24" width="4" height="8.42" fill="#089981"/>
<rect x="618.69" y="487.39" width="0.9" height="24.44" fill="#f23645"/>
<rect x="617.14" y="490.07" width="4" height="13.76" fill="#f23645"/>
<rect x="623.4" y="499" width="0.9" height="8.22" fill="#089981"/>
<rect x="621.85" y="501.06" width="4" height="3.59" fill="#089981"/>
<rect x="628.1" y="499.31" width="0.9" height="29.48" fill="#f23645"/>
<rect x="626.55" y="500.34" width="4" height="24.34" fill="#f23645"/>
<rect x="632.81" y="520.11" width="0.9" height="11.5" fill="#f23645"/>
<rect x="631.26" y="524.7" width="4" height="1.1" fill="#f23645"/>
<rect x="637.51" y="519.29" width="0.9" height="9.55" fill="#089981"/>
<rect x="635.96" y="522.99" width="4" height="2.77" fill="#089981"/>
<rect x="642.22" y="521.96" width="0.9" height="6.88" fill="#f23645"/>
<rect x="640.67" y="522.68" width="4" height="2.05" fill="#f23645"/>
<rect x="646.92" y="524.22" width="0.9" height="15.92" fill="#f23645"/>
<rect x="645.37" y="525.04" width="4" height="10.99" fill="#f23645"/>
<rect x="651.63" y="533.26" width="0.9" height="10.27" fill="#089981"/>
<rect x="650.08" y="533.63" width="4" height="1.1" fill="#089981"/>
<rect x="656.33" y="525.25" width="0.9" height="10.27" fill="#089981"/>
<rect x="654.78" y="531.2" width="4" height="3.49" fill="#089981"/>
<rect x="661.04" y="521.96" width="0.9" height="10.99" fill="#089981"/>
<rect x="659.49" y="522.68" width="4" height="8.73" fill="#089981"/>
<rect x="665.74" y="519.29" width="0.9" height="6.78" fill="#f23645"/>
<rect x="664.19" y="522.85" width="4" height="1.1" fill="#f23645"/>
<rect x="670.45" y="521.14" width="0.9" height="6.98" fill="#f23645"/>
<rect x="668.9" y="524.22" width="4" height="3.9" fill="#f23645"/>
<rect x="675.15" y="527.09" width="0.9" height="8.22" fill="#f23645"/>
<rect x="673.6" y="527.51" width="4" height="7.19" fill="#f23645"/>
<rect x="679.86" y="527.09" width="0.9" height="8.22" fill="#089981"/>
<rect x="678.31" y="528.12" width="4" height="5.85" fill="#089981"/>
<rect x="684.56" y="523.19" width="0.9" height="7.7" fill="#089981"/>
<rect x="683.01" y="528.33" width="4" height="1.54" fill="#089981"/>
<rect x="689.27" y="522.68" width="0.9" height="6.16" fill="#089981"/>
<rect x="687.72" y="527.3" width="4" height="1.54" fill="#089981"/>
<rect x="693.97" y="512.41" width="0.9" height="13.35" fill="#089981"/>
<rect x="692.42" y="512.41" width="4" height="13.35" fill="#089981"/>
<rect x="698.68" y="508.3" width="0.9" height="5.44" fill="#089981"/>
<rect x="697.13" y="508.3" width="4" height="4.62" fill="#089981"/>
<rect x="703.38" y="493.2" width="0.9" height="17.46" fill="#089981"/>
<rect x="701.83" y="495.46" width="4" height="13.15" fill="#089981"/>
<rect x="708.08" y="488.07" width="0.9" height="14.58" fill="#f23645"/>
<rect x="706.53" y="495.97" width="4" height="6.68" fill="#f23645"/>
<rect x="712.79" y="493.92" width="0.9" height="21.88" fill="#f23645"/>
<rect x="711.24" y="502.14" width="4" height="10.78" fill="#f23645"/>
<rect x="717.49" y="507.27" width="0.9" height="11.61" fill="#f23645"/>
<rect x="715.94" y="513.91" width="4" height="1.1" fill="#f23645"/>
<rect x="722.2" y="508.3" width="0.9" height="11.3" fill="#089981"/>
<rect x="720.65" y="511.69" width="4" height="3.49" fill="#089981"/>
<rect x="726.9" y="500.08" width="0.9" height="12.63" fill="#089981"/>
<rect x="725.35" y="507.79" width="4" height="4.31" fill="#089981"/>
<rect x="731.61" y="504.19" width="0.9" height="10.27" fill="#f23645"/>
<rect x="730.06" y="507.27" width="4" height="4.62" fill="#f23645"/>
<rect x="736.31" y="510.87" width="0.9" height="13.35" fill="#f23645"/>
<rect x="734.76" y="511.69" width="4" height="4.11" fill="#f23645"/>
<rect x="741.02" y="506.54" width="0.9" height="11.39" fill="#089981"/>
<rect x="739.47" y="507.74" width="4" height="7.55" fill="#089981"/>
<rect x="745.72" y="504.98" width="0.9" height="6.71" fill="#089981"/>
<rect x="744.17" y="506.41" width="4" height="1.1" fill="#089981"/>
<rect x="750.43" y="494.91" width="0.9" height="12.47" fill="#089981"/>
<rect x="748.88" y="494.91" width="4" height="12.47" fill="#089981"/>
<rect x="755.13" y="491.31" width="0.9" height="7.43" fill="#089981"/>
<rect x="753.58" y="494.55" width="4" height="1.2" fill="#089981"/>
<rect x="759.84" y="474.77" width="0.9" height="20.38" fill="#089981"/>
<rect x="758.29" y="475.97" width="4" height="19.18" fill="#089981"/>
<rect x="764.54" y="460.14" width="0.9" height="16.78" fill="#089981"/>
<rect x="762.99" y="466.14" width="4" height="8.03" fill="#089981"/>
<rect x="769.25" y="461.82" width="0.9" height="12.95" fill="#089981"/>
<rect x="767.7" y="463.38" width="4" height="3.96" fill="#089981"/>
<rect x="773.95" y="459.18" width="0.9" height="9.59" fill="#089981"/>
<rect x="772.4" y="463.02" width="4" height="1.56" fill="#089981"/>
<rect x="778.66" y="461.34" width="0.9" height="14.39" fill="#f23645"/>
<rect x="777.11" y="462.78" width="4" height="9.35" fill="#f23645"/>
<rect x="783.36" y="457.98" width="0.9" height="14.39" fill="#089981"/>
<rect x="781.81" y="463.74" width="4" height="8.39" fill="#089981"/>
<rect x="788.07" y="461.82" width="0.9" height="7.19" fill="#f23645"/>
<rect x="786.52" y="462.78" width="4" height="3" fill="#f23645"/>
<rect x="792.77" y="448.2" width="0.9" height="20" fill="#089981"/>
<rect x="791.22" y="449.3" width="4" height="16.5" fill="#089981"/>
<rect x="797.48" y="441.16" width="0.9" height="11.42" fill="#089981"/>
<rect x="795.93" y="442.18" width="4" height="7.87" fill="#089981"/>
<rect x="802.18" y="426.95" width="0.9" height="16.76" fill="#089981"/>
<rect x="800.63" y="431.64" width="4" height="10.79" fill="#089981"/>
<rect x="806.89" y="424.41" width="0.9" height="23.36" fill="#f23645"/>
<rect x="805.34" y="430.75" width="4" height="11.68" fill="#f23645"/>
<rect x="811.59" y="428.22" width="0.9" height="13.58" fill="#089981"/>
<rect x="810.04" y="428.22" width="4" height="13.58" fill="#089981"/>
<rect x="816.3" y="427.45" width="0.9" height="12.44" fill="#f23645"/>
<rect x="814.75" y="427.45" width="4" height="2.92" fill="#f23645"/>
<rect x="821" y="410.44" width="0.9" height="19.93" fill="#089981"/>
<rect x="819.45" y="415.14" width="4" height="14.85" fill="#089981"/>
<rect x="825.71" y="412.22" width="0.9" height="11.81" fill="#f23645"/>
<rect x="824.16" y="414.76" width="4" height="5.08" fill="#f23645"/>
<rect x="830.41" y="406.64" width="0.9" height="18.03" fill="#089981"/>
<rect x="828.86" y="409.17" width="4" height="9.77" fill="#089981"/>
<rect x="835.12" y="394.83" width="0.9" height="12.69" fill="#089981"/>
<rect x="833.57" y="396.99" width="4" height="10.54" fill="#089981"/>
<rect x="839.82" y="381.5" width="0.9" height="16.76" fill="#089981"/>
<rect x="838.27" y="382.14" width="4" height="14.6" fill="#089981"/>
<rect x="844.53" y="374.14" width="0.9" height="15.61" fill="#089981"/>
<rect x="842.98" y="379.6" width="4" height="2.92" fill="#089981"/>
<rect x="849.23" y="332.3" width="0.9" height="47.5" fill="#089981"/>
<rect x="847.68" y="333" width="4" height="46.8" fill="#089981"/>
<rect x="853.94" y="303.1" width="0.9" height="84.5" fill="#f23645"/>
<rect x="852.39" y="318.1" width="4" height="60" fill="#f23645"/>
<rect x="858.64" y="341.4" width="0.9" height="41.6" fill="#089981"/>
<rect x="857.09" y="352.4" width="4" height="23.6" fill="#089981"/>
<rect x="863.35" y="353.4" width="0.9" height="37" fill="#f23645"/>
<rect x="861.8" y="353.4" width="4" height="28.2" fill="#f23645"/>
<rect x="868.05" y="362.9" width="0.9" height="18.7" fill="#089981"/>
<rect x="866.5" y="374.1" width="4" height="5.7" fill="#089981"/>
<rect x="872.76" y="342.1" width="0.9" height="30.6" fill="#089981"/>
<rect x="871.21" y="350.2" width="4" height="20.1" fill="#089981"/>
<rect x="877.46" y="319.1" width="0.9" height="35.3" fill="#089981"/>
<rect x="875.91" y="321" width="4" height="29.2" fill="#089981"/>
<rect x="882.17" y="311.1" width="0.9" height="39.9" fill="#f23645"/>
<rect x="880.62" y="320.3" width="4" height="20.4" fill="#f23645"/>
<rect x="886.87" y="334.6" width="0.9" height="32.5" fill="#f23645"/>
<rect x="885.32" y="338.9" width="4" height="8.9" fill="#f23645"/>
<rect x="891.58" y="325.2" width="0.9" height="31.4" fill="#089981"/>
<rect x="890.03" y="329" width="4" height="18.8" fill="#089981"/>
<rect x="896.28" y="289.9" width="0.9" height="36.3" fill="#089981"/>
<rect x="894.73" y="296.6" width="4" height="29.6" fill="#089981"/>
<rect x="900.99" y="271.2" width="0.9" height="36.1" fill="#089981"/>
<rect x="899.44" y="285.9" width="4" height="11.6" fill="#089981"/>
<rect x="905.69" y="244" width="0.9" height="40.6" fill="#089981"/>
<rect x="904.14" y="245.8" width="4" height="38.8" fill="#089981"/>
<rect x="910.4" y="247.2" width="0.9" height="40.5" fill="#f23645"/>
<rect x="908.85" y="247.2" width="4" height="4.3" fill="#f23645"/>
<rect x="915.1" y="249.1" width="0.9" height="36.7" fill="#f23645"/>
<rect x="913.55" y="249.1" width="4" height="16.9" fill="#f23645"/>
<rect x="919.81" y="237.4" width="0.9" height="17.6" fill="#089981"/>
<rect x="918.26" y="239.2" width="4" height="15.8" fill="#089981"/>
<rect x="924.51" y="229.6" width="0.9" height="20" fill="#089981"/>
<rect x="922.96" y="237.8" width="4" height="3.8" fill="#089981"/>
<rect x="929.22" y="231.3" width="0.9" height="32.5" fill="#f23645"/>
<rect x="927.67" y="237" width="4" height="9.8" fill="#f23645"/>
<rect x="933.92" y="225.1" width="0.9" height="35.8" fill="#089981"/>
<rect x="932.37" y="227.1" width="4" height="23.7" fill="#089981"/>
<rect x="938.63" y="182.3" width="0.9" height="43.8" fill="#089981"/>
<rect x="937.08" y="182.3" width="4" height="43.8" fill="#089981"/>
<rect x="943.33" y="93.1" width="0.9" height="94.6" fill="#f23645"/>
<rect x="941.78" y="174.4" width="4" height="7.1" fill="#f23645"/>
<rect x="948.03" y="119" width="0.9" height="57.4" fill="#089981"/>
<rect x="946.48" y="129.9" width="4" height="45.2" fill="#089981"/>
<rect x="952.74" y="95" width="0.9" height="43.3" fill="#089981"/>
<rect x="951.19" y="98" width="4" height="35.8" fill="#089981"/>
<rect x="957.44" y="68.9" width="0.9" height="92.6" fill="#f23645"/>
<rect x="955.89" y="100" width="4" height="6.9" fill="#f23645"/>
<rect x="962.15" y="88.1" width="0.9" height="282.2" fill="#f23645"/>
<rect x="960.6" y="97" width="4" height="199.4" fill="#f23645"/>
</g>
<line x1="0" y1="296.4" x2="1018" y2="296.4" stroke="#f23645" stroke-width="0.9" stroke-dasharray="0.9 1.5"/>
<text x="1025.45" y="7.4" transform="rotate(0.03 1025.45 7.4)" font-size="9.0" fill="#131722" stroke="#131722" stroke-width="0.2" font-weight="normal" textLength="43.4" lengthAdjust="spacingAndGlyphs">132.00000</text>
<text x="1025.45" y="32.36" transform="rotate(0.03 1025.45 32.36)" font-size="9.0" fill="#131722" stroke="#131722" stroke-width="0.2" font-weight="normal" textLength="43.4" lengthAdjust="spacingAndGlyphs">128.00000</text>
<text x="1025.45" y="57.32" transform="rotate(0.03 1025.45 57.32)" font-size="9.0" fill="#131722" stroke="#131722" stroke-width="0.2" font-weight="normal" textLength="43.4" lengthAdjust="spacingAndGlyphs">124.00000</text>
<text x="1025.45" y="82.28" transform="rotate(0.03 1025.45 82.28)" font-size="9.0" fill="#131722" stroke="#131722" stroke-width="0.2" font-weight="normal" textLength="43.4" lengthAdjust="spacingAndGlyphs">120.00000</text>
<text x="1025.45" y="107.24" transform="rotate(0.03 1025.45 107.24)" font-size="9.0" fill="#131722" stroke="#131722" stroke-width="0.2" font-weight="normal" textLength="43.4" lengthAdjust="spacingAndGlyphs">116.00000</text>
<text x="1025.45" y="132.19" transform="rotate(0.03 1025.45 132.19)" font-size="9.0" fill="#131722" stroke="#131722" stroke-width="0.2" font-weight="normal" textLength="43.4" lengthAdjust="spacingAndGlyphs">112.00000</text>
<text x="1025.45" y="157.15" transform="rotate(0.03 1025.45 157.15)" font-size="9.0" fill="#131722" stroke="#131722" stroke-width="0.2" font-weight="normal" textLength="43.4" lengthAdjust="spacingAndGlyphs">108.00000</text>
<text x="1025.45" y="182.11" transform="rotate(0.03 1025.45 182.11)" font-size="9.0" fill="#131722" stroke="#131722" stroke-width="0.2" font-weight="normal" textLength="43.4" lengthAdjust="spacingAndGlyphs">104.00000</text>
<text x="1025.45" y="207.07" transform="rotate(0.03 1025.45 207.07)" font-size="9.0" fill="#131722" stroke="#131722" stroke-width="0.2" font-weight="normal" textLength="43.4" lengthAdjust="spacingAndGlyphs">100.00000</text>
<text x="1025.15" y="232.03" transform="rotate(0.03 1025.15 232.03)" font-size="9.0" fill="#131722" stroke="#131722" stroke-width="0.2" font-weight="normal" textLength="38.6" lengthAdjust="spacingAndGlyphs">96.00000</text>
<text x="1025.15" y="256.99" transform="rotate(0.03 1025.15 256.99)" font-size="9.0" fill="#131722" stroke="#131722" stroke-width="0.2" font-weight="normal" textLength="38.6" lengthAdjust="spacingAndGlyphs">92.00000</text>
<text x="1025.15" y="281.95" transform="rotate(0.03 1025.15 281.95)" font-size="9.0" fill="#131722" stroke="#131722" stroke-width="0.2" font-weight="normal" textLength="38.6" lengthAdjust="spacingAndGlyphs">88.00000</text>
<text x="1025.15" y="306.91" transform="rotate(0.03 1025.15 306.91)" font-size="9.0" fill="#131722" stroke="#131722" stroke-width="0.2" font-weight="normal" textLength="38.6" lengthAdjust="spacingAndGlyphs">84.00000</text>
<text x="1025.15" y="331.87" transform="rotate(0.03 1025.15 331.87)" font-size="9.0" fill="#131722" stroke="#131722" stroke-width="0.2" font-weight="normal" textLength="38.6" lengthAdjust="spacingAndGlyphs">80.00000</text>
<text x="1025.15" y="356.83" transform="rotate(0.03 1025.15 356.83)" font-size="9.0" fill="#131722" stroke="#131722" stroke-width="0.2" font-weight="normal" textLength="38.6" lengthAdjust="spacingAndGlyphs">76.00000</text>
<text x="1025.15" y="381.78" transform="rotate(0.03 1025.15 381.78)" font-size="9.0" fill="#131722" stroke="#131722" stroke-width="0.2" font-weight="normal" textLength="38.6" lengthAdjust="spacingAndGlyphs">72.00000</text>
<text x="1025.15" y="406.74" transform="rotate(0.03 1025.15 406.74)" font-size="9.0" fill="#131722" stroke="#131722" stroke-width="0.2" font-weight="normal" textLength="38.6" lengthAdjust="spacingAndGlyphs">68.00000</text>
<text x="1025.15" y="431.7" transform="rotate(0.03 1025.15 431.7)" font-size="9.0" fill="#131722" stroke="#131722" stroke-width="0.2" font-weight="normal" textLength="38.6" lengthAdjust="spacingAndGlyphs">64.00000</text>
<text x="1025.15" y="456.66" transform="rotate(0.03 1025.15 456.66)" font-size="9.0" fill="#131722" stroke="#131722" stroke-width="0.2" font-weight="normal" textLength="38.6" lengthAdjust="spacingAndGlyphs">60.00000</text>
<text x="1025.15" y="481.62" transform="rotate(0.03 1025.15 481.62)" font-size="9.0" fill="#131722" stroke="#131722" stroke-width="0.2" font-weight="normal" textLength="38.6" lengthAdjust="spacingAndGlyphs">56.00000</text>
<text x="1025.15" y="506.58" transform="rotate(0.03 1025.15 506.58)" font-size="9.0" fill="#131722" stroke="#131722" stroke-width="0.2" font-weight="normal" textLength="38.6" lengthAdjust="spacingAndGlyphs">52.00000</text>
<text x="1025.15" y="531.54" transform="rotate(0.03 1025.15 531.54)" font-size="9.0" fill="#131722" stroke="#131722" stroke-width="0.2" font-weight="normal" textLength="38.6" lengthAdjust="spacingAndGlyphs">48.00000</text>
<text x="1025.15" y="556.5" transform="rotate(0.03 1025.15 556.5)" font-size="9.0" fill="#131722" stroke="#131722" stroke-width="0.2" font-weight="normal" textLength="38.6" lengthAdjust="spacingAndGlyphs">44.00000</text>
<text x="1025.15" y="581.46" transform="rotate(0.03 1025.15 581.46)" font-size="9.0" fill="#131722" stroke="#131722" stroke-width="0.2" font-weight="normal" textLength="38.6" lengthAdjust="spacingAndGlyphs">40.00000</text>
<text x="1025.15" y="606.42" transform="rotate(0.03 1025.15 606.42)" font-size="9.0" fill="#131722" stroke="#131722" stroke-width="0.2" font-weight="normal" textLength="38.6" lengthAdjust="spacingAndGlyphs">36.00000</text>
<text x="1025.15" y="631.38" transform="rotate(0.03 1025.15 631.38)" font-size="9.0" fill="#131722" stroke="#131722" stroke-width="0.2" font-weight="normal" textLength="38.6" lengthAdjust="spacingAndGlyphs">32.00000</text>
<text x="1025.15" y="656.33" transform="rotate(0.03 1025.15 656.33)" font-size="9.0" fill="#131722" stroke="#131722" stroke-width="0.2" font-weight="normal" textLength="38.6" lengthAdjust="spacingAndGlyphs">28.00000</text>
<text x="1025.15" y="681.29" transform="rotate(0.03 1025.15 681.29)" font-size="9.0" fill="#131722" stroke="#131722" stroke-width="0.2" font-weight="normal" textLength="38.6" lengthAdjust="spacingAndGlyphs">24.00000</text>
<path d="M1019 290H1066.2A1.8 1.8 0 0 1 1068 291.8V301.2A1.8 1.8 0 0 1 1066.2 303H1019Z" fill="#f23645"/>
<text x="1024.95" y="300" transform="rotate(0.03 1024.95 300)" font-size="9.0" fill="#fff" stroke="#fff" stroke-width="0.2" font-weight="normal" textLength="38.8" lengthAdjust="spacingAndGlyphs">85.18850</text>
<path d="M1019 508.2H1063.2A1.8 1.8 0 0 1 1065 510V519.9A1.8 1.8 0 0 1 1063.2 521.7H1019Z" fill="#ef5350"/>
<text x="1024.65" y="518.5" transform="rotate(0.03 1024.65 518.5)" font-size="9.0" fill="#fff" stroke="#fff" stroke-width="0.2" font-weight="normal" textLength="37" lengthAdjust="spacingAndGlyphs">901.84&#8201;K</text>
<text x="40.65" y="699.8" transform="rotate(0.03 40.65 699.8)" font-size="9.0" fill="#1a1e29" stroke="#1a1e29" stroke-width="0.12" font-weight="normal" textLength="17.2" lengthAdjust="spacingAndGlyphs">May</text>
<text x="145.25" y="699.8" transform="rotate(0.03 145.25 699.8)" font-size="9.0" fill="#1a1e29" stroke="#1a1e29" stroke-width="0.12" font-weight="normal" textLength="15.1" lengthAdjust="spacingAndGlyphs">Jun</text>
<text x="245.05" y="699.8" transform="rotate(0.03 245.05 699.8)" font-size="9.0" fill="#1a1e29" stroke="#1a1e29" stroke-width="0.12" font-weight="normal" textLength="13.1" lengthAdjust="spacingAndGlyphs">Jul</text>
<text x="352.15" y="699.8" transform="rotate(0.03 352.15 699.8)" font-size="9.0" fill="#1a1e29" stroke="#1a1e29" stroke-width="0.12" font-weight="normal" textLength="15.6" lengthAdjust="spacingAndGlyphs">Aug</text>
<text x="450.45" y="699.8" transform="rotate(0.03 450.45 699.8)" font-size="9.0" fill="#1a1e29" stroke="#1a1e29" stroke-width="0.12" font-weight="normal" textLength="16.1" lengthAdjust="spacingAndGlyphs">Sep</text>
<text x="554.15" y="699.8" transform="rotate(0.03 554.15 699.8)" font-size="9.0" fill="#1a1e29" stroke="#1a1e29" stroke-width="0.12" font-weight="normal" textLength="15.8" lengthAdjust="spacingAndGlyphs">Oct</text>
<text x="662.35" y="699.8" transform="rotate(0.03 662.35 699.8)" font-size="9.0" fill="#1a1e29" stroke="#1a1e29" stroke-width="0.12" font-weight="normal" textLength="16.5" lengthAdjust="spacingAndGlyphs">Nov</text>
<text x="756.45" y="699.8" transform="rotate(0.03 756.45 699.8)" font-size="9.0" fill="#1a1e29" stroke="#1a1e29" stroke-width="0.12" font-weight="normal" textLength="15.8" lengthAdjust="spacingAndGlyphs">Dec</text>
<text x="959.05" y="699.8" transform="rotate(0.03 959.05 699.8)" font-size="9.0" fill="#1a1e29" stroke="#1a1e29" stroke-width="0.12" font-weight="normal" textLength="16" lengthAdjust="spacingAndGlyphs">Feb</text>
<text x="857.25" y="699.8" transform="rotate(0.03 857.25 699.8)" font-size="9.0" fill="#131722" stroke="#131722" stroke-width="0.1" font-weight="bold" textLength="21.9" lengthAdjust="spacingAndGlyphs">2026</text>
<rect x="0" y="707.4" width="1071" height="1.6" fill="#e6e8ec"/>
<circle cx="10.5" cy="12.5" r="7.4" fill="#aaa8bb"/>
<path d="M9 9.1H11.7L12.6 11.2H8.1Z M6.4 12.1H9.1L10.2 15H5.1Z M11.9 12.1H14.6L15.9 15H10.8Z" fill="#fff" stroke="#fff" stroke-width="0.3" stroke-linejoin="round"/>
<text x="20.7" y="16.8" transform="rotate(0.03 20.7 16.8)" font-size="11.9" fill="#131722" stroke="#131722" stroke-width="0.2" font-weight="normal" textLength="31.4" lengthAdjust="spacingAndGlyphs">Silver</text>
<text x="58.2" y="16.8" transform="rotate(0.03 58.2 16.8)" font-size="11.9" fill="#131722" stroke="#131722" stroke-width="0" font-weight="normal" textLength="5" lengthAdjust="spacingAndGlyphs">/</text>
<text x="66.8" y="16.8" transform="rotate(0.03 66.8 16.8)" font-size="11.9" fill="#131722" stroke="#131722" stroke-width="0.2" font-weight="normal" textLength="24.2" lengthAdjust="spacingAndGlyphs">U.S.</text>
<text x="95.3" y="16.8" transform="rotate(0.03 95.3 16.8)" font-size="11.9" fill="#131722" stroke="#131722" stroke-width="0.2" font-weight="normal" textLength="33.3" lengthAdjust="spacingAndGlyphs">Dollar</text>
<text x="132.3" y="15.6" transform="rotate(0.03 132.3 15.6)" font-size="8" fill="#131722" stroke="#131722" stroke-width="0" font-weight="normal" textLength="3.4" lengthAdjust="spacingAndGlyphs">&#8226;</text>
<text x="139.2" y="16.8" transform="rotate(0.03 139.2 16.8)" font-size="11.9" fill="#131722" stroke="#131722" stroke-width="0.2" font-weight="normal" textLength="13.6" lengthAdjust="spacingAndGlyphs">1D</text>
<text x="155.3" y="15.6" transform="rotate(0.03 155.3 15.6)" font-size="8" fill="#131722" stroke="#131722" stroke-width="0" font-weight="normal" textLength="3.4" lengthAdjust="spacingAndGlyphs">&#8226;</text>
<text x="162" y="16.8" transform="rotate(0.03 162 16.8)" font-size="11.9" fill="#131722" stroke="#131722" stroke-width="0.2" font-weight="normal" textLength="40.4" lengthAdjust="spacingAndGlyphs">OANDA</text>
<path d="M216.2 5.5H224.6V19.4H216.2A6.95 6.95 0 0 1 216.2 5.5Z" fill="#ebebeb"/>
<path d="M224.6 5.5H233.9A6.95 6.95 0 0 1 233.9 19.4H224.6Z" fill="#fbd0dc"/>
<rect x="212.8" y="11.4" width="8" height="3.2" rx="1.6" fill="#9b9b9b"/>
<path d="M228.6 11.6c1.2-1.4 2.2-1.4 3.3-.5s2.1.9 3.2-.4 M228.6 14.9c1.2-1.4 2.2-1.4 3.3-.5s2.1.9 3.2-.4" fill="none" stroke="#e91e63" stroke-width="1.1" stroke-linecap="round"/>
<text x="246.75" y="17" transform="rotate(0.03 246.75 17)" font-size="9.0" fill="#131722" stroke="#131722" stroke-width="0.2" font-weight="normal" textLength="7.1" lengthAdjust="spacingAndGlyphs">O</text>
<text x="254.25" y="17" transform="rotate(0.03 254.25 17)" font-size="9.0" fill="#f23645" stroke="#f23645" stroke-width="0.2" font-weight="normal" textLength="47.2" lengthAdjust="spacingAndGlyphs">117.11500</text>
<text x="306.65" y="17" transform="rotate(0.03 306.65 17)" font-size="9.0" fill="#131722" stroke="#131722" stroke-width="0.2" font-weight="normal" textLength="7" lengthAdjust="spacingAndGlyphs">H</text>
<text x="314.25" y="17" transform="rotate(0.03 314.25 17)" font-size="9.0" fill="#f23645" stroke="#f23645" stroke-width="0.2" font-weight="normal" textLength="47.5" lengthAdjust="spacingAndGlyphs">118.49900</text>
<text x="366.95" y="17" transform="rotate(0.03 366.95 17)" font-size="9.0" fill="#131722" stroke="#131722" stroke-width="0.2" font-weight="normal" textLength="5.1" lengthAdjust="spacingAndGlyphs">L</text>
<text x="372.95" y="17" transform="rotate(0.03 372.95 17)" font-size="9.0" fill="#f23645" stroke="#f23645" stroke-width="0.2" font-weight="normal" textLength="41.7" lengthAdjust="spacingAndGlyphs">73.30815</text>
<text x="418.95" y="17" transform="rotate(0.03 418.95 17)" font-size="9.0" fill="#131722" stroke="#131722" stroke-width="0.2" font-weight="normal" textLength="6.6" lengthAdjust="spacingAndGlyphs">C</text>
<text x="426.25" y="17" transform="rotate(0.03 426.25 17)" font-size="9.0" fill="#f23645" stroke="#f23645" stroke-width="0.2" font-weight="normal" textLength="42.2" lengthAdjust="spacingAndGlyphs">85.18850</text>
<text x="473.65" y="17" transform="rotate(0.03 473.65 17)" font-size="9.0" fill="#f23645" stroke="#f23645" stroke-width="0.2" font-weight="normal" textLength="46.9" lengthAdjust="spacingAndGlyphs">&#8722;30.38655</text>
<text x="524.85" y="17" transform="rotate(0.03 524.85 17)" font-size="9.0" fill="#f23645" stroke="#f23645" stroke-width="0.2" font-weight="normal" textLength="43.6" lengthAdjust="spacingAndGlyphs">(&#8722;26.29%)</text>
<rect x="2.5" y="25.5" width="59" height="27" rx="4" fill="#fff" stroke="#f23645" stroke-width="1"/>
<rect x="102.5" y="25.5" width="59" height="27" rx="4" fill="#fff" stroke="#2962ff" stroke-width="1"/>
<text x="11.05" y="36" transform="rotate(0.03 11.05 36)" font-size="9.0" fill="#f23645" stroke="#f23645" stroke-width="0.2" font-weight="normal" textLength="37.1" lengthAdjust="spacingAndGlyphs">85.0203</text>
<text x="48.4" y="34.3" transform="rotate(0.03 48.4 34.3)" font-size="7.0" fill="#f23645" stroke="#f23645" stroke-width="0.1" font-weight="normal" textLength="4.7" lengthAdjust="spacingAndGlyphs">0</text>
<text x="22.35" y="46.9" transform="rotate(0.03 22.35 46.9)" font-size="8" fill="#f23645" stroke="#f23645" stroke-width="0.2" font-weight="normal" textLength="19.2" lengthAdjust="spacingAndGlyphs">SELL</text>
<text x="110.95" y="36" transform="rotate(0.03 110.95 36)" font-size="9.0" fill="#2962ff" stroke="#2962ff" stroke-width="0.2" font-weight="normal" textLength="36.9" lengthAdjust="spacingAndGlyphs">85.3567</text>
<text x="148.1" y="34.3" transform="rotate(0.03 148.1 34.3)" font-size="7.0" fill="#2962ff" stroke="#2962ff" stroke-width="0.1" font-weight="normal" textLength="4.7" lengthAdjust="spacingAndGlyphs">0</text>
<text x="123.65" y="46.9" transform="rotate(0.03 123.65 46.9)" font-size="8" fill="#2962ff" stroke="#2962ff" stroke-width="0.2" font-weight="normal" textLength="16.2" lengthAdjust="spacingAndGlyphs">BUY</text>
<text x="68.55" y="42.7" transform="rotate(0.03 68.55 42.7)" font-size="8" fill="#2a2e39" stroke="#2a2e39" stroke-width="0.2" font-weight="normal" textLength="27.3" lengthAdjust="spacingAndGlyphs">3,364.0</text>
<text x="3.35" y="68.8" transform="rotate(0.03 3.35 68.8)" font-size="9.0" fill="#131722" stroke="#131722" stroke-width="0.2" font-weight="normal" textLength="47.1" lengthAdjust="spacingAndGlyphs">Vol &#183; Ticks</text>
<text x="56.45" y="68.8" transform="rotate(0.03 56.45 68.8)" font-size="9.0" fill="#ef5350" stroke="#ef5350" stroke-width="0.2" font-weight="normal" textLength="38.9" lengthAdjust="spacingAndGlyphs">901.84&#8201;K</text>
<rect x="2.7" y="77.8" width="22.6" height="16.4" rx="2.4" fill="#fff" stroke="#d6d8de" stroke-width="0.9"/>
<path d="M10.7 86.9L13.8 83.9L16.9 86.9" fill="none" stroke="#131722" stroke-width="1.1" stroke-linecap="round" stroke-linejoin="round"/>
<g stroke="#fff" stroke-width="1.5" stroke-linejoin="round" fill="#fff">
<path d="M5.6 663.1H15V674.6H10.1V667.4H5.6Z"/>
<circle cx="19.35" cy="665.35" r="2.3"/>
<path d="M23.3 663.1H29.3L24.7 674.6H18.8Z"/>
<text x="34.8" y="674.6" font-size="15.6" font-weight="bold" textLength="97" lengthAdjust="spacingAndGlyphs">TradingView</text>
</g>
<g fill="#111">
<path d="M5.6 663.1H15V674.6H10.1V667.4H5.6Z"/>
<circle cx="19.35" cy="665.35" r="2.3"/>
<path d="M23.3 663.1H29.3L24.7 674.6H18.8Z"/>
</g>
<g fill="#111" stroke="#111" stroke-width="0.35">
<text x="34.8" y="674.6" font-size="15.6" font-weight="bold" textLength="97" lengthAdjust="spacingAndGlyphs">TradingView</text>
</g>
<g>
<circle cx="986.6" cy="675.3" r="7.65" fill="#fff" stroke="#f23645" stroke-width="1.3"/>
<clipPath id="f0"><circle cx="986.6" cy="675.3" r="6.2"/></clipPath>
<g clip-path="url(#f0)">
<rect x="980.4" y="669.1" width="12.4" height="2.48" fill="#f0524f"/>
<rect x="980.4" y="674.06" width="12.4" height="2.48" fill="#f0524f"/>
<rect x="980.4" y="679.02" width="12.4" height="2.48" fill="#f0524f"/>
<rect x="980.4" y="669.1" width="7.6" height="7.74" fill="#3f8bea"/>
<rect x="982" y="670.7" width="0.7" height="0.7" fill="#dbe9fb"/>
<rect x="983.7" y="670.7" width="0.7" height="0.7" fill="#dbe9fb"/>
<rect x="985.4" y="670.7" width="0.7" height="0.7" fill="#dbe9fb"/>
<rect x="987.1" y="670.7" width="0.7" height="0.7" fill="#dbe9fb"/>
<rect x="982" y="672.8" width="0.7" height="0.7" fill="#dbe9fb"/>
<rect x="983.7" y="672.8" width="0.7" height="0.7" fill="#dbe9fb"/>
<rect x="985.4" y="672.8" width="0.7" height="0.7" fill="#dbe9fb"/>
<rect x="987.1" y="672.8" width="0.7" height="0.7" fill="#dbe9fb"/>
<rect x="982" y="674.9" width="0.7" height="0.7" fill="#dbe9fb"/>
<rect x="983.7" y="674.9" width="0.7" height="0.7" fill="#dbe9fb"/>
<rect x="985.4" y="674.9" width="0.7" height="0.7" fill="#dbe9fb"/>
<rect x="987.1" y="674.9" width="0.7" height="0.7" fill="#dbe9fb"/>
</g></g>
<g>
<circle cx="976.8" cy="675.3" r="7.65" fill="#fff" stroke="#f23645" stroke-width="1.3"/>
<clipPath id="f1"><circle cx="976.8" cy="675.3" r="6.2"/></clipPath>
<g clip-path="url(#f1)">
<rect x="970.6" y="669.1" width="12.4" height="2.48" fill="#f0524f"/>
<rect x="970.6" y="674.06" width="12.4" height="2.48" fill="#f0524f"/>
<rect x="970.6" y="679.02" width="12.4" height="2.48" fill="#f0524f"/>
<rect x="970.6" y="669.1" width="7.6" height="7.74" fill="#3f8bea"/>
<rect x="972.2" y="670.7" width="0.7" height="0.7" fill="#dbe9fb"/>
<rect x="973.9" y="670.7" width="0.7" height="0.7" fill="#dbe9fb"/>
<rect x="975.6" y="670.7" width="0.7" height="0.7" fill="#dbe9fb"/>
<rect x="977.3" y="670.7" width="0.7" height="0.7" fill="#dbe9fb"/>
<rect x="972.2" y="672.8" width="0.7" height="0.7" fill="#dbe9fb"/>
<rect x="973.9" y="672.8" width="0.7" height="0.7" fill="#dbe9fb"/>
<rect x="975.6" y="672.8" width="0.7" height="0.7" fill="#dbe9fb"/>
<rect x="977.3" y="672.8" width="0.7" height="0.7" fill="#dbe9fb"/>
<rect x="972.2" y="674.9" width="0.7" height="0.7" fill="#dbe9fb"/>
<rect x="973.9" y="674.9" width="0.7" height="0.7" fill="#dbe9fb"/>
<rect x="975.6" y="674.9" width="0.7" height="0.7" fill="#dbe9fb"/>
<rect x="977.3" y="674.9" width="0.7" height="0.7" fill="#dbe9fb"/>
</g></g>
<g>
<circle cx="972" cy="675.3" r="7.65" fill="#fff" stroke="#f23645" stroke-width="1.3"/>
<clipPath id="f2"><circle cx="972" cy="675.3" r="6.2"/></clipPath>
<g clip-path="url(#f2)">
<rect x="965.8" y="669.1" width="12.4" height="2.48" fill="#f0524f"/>
<rect x="965.8" y="674.06" width="12.4" height="2.48" fill="#f0524f"/>
<rect x="965.8" y="679.02" width="12.4" height="2.48" fill="#f0524f"/>
<rect x="965.8" y="669.1" width="7.6" height="7.74" fill="#3f8bea"/>
<rect x="967.4" y="670.7" width="0.7" height="0.7" fill="#dbe9fb"/>
<rect x="969.1" y="670.7" width="0.7" height="0.7" fill="#dbe9fb"/>
<rect x="970.8" y="670.7" width="0.7" height="0.7" fill="#dbe9fb"/>
<rect x="972.5" y="670.7" width="0.7" height="0.7" fill="#dbe9fb"/>
<rect x="967.4" y="672.8" width="0.7" height="0.7" fill="#dbe9fb"/>
<rect x="969.1" y="672.8" width="0.7" height="0.7" fill="#dbe9fb"/>
<rect x="970.8" y="672.8" width="0.7" height="0.7" fill="#dbe9fb"/>
<rect x="972.5" y="672.8" width="0.7" height="0.7" fill="#dbe9fb"/>
<rect x="967.4" y="674.9" width="0.7" height="0.7" fill="#dbe9fb"/>
<rect x="969.1" y="674.9" width="0.7" height="0.7" fill="#dbe9fb"/>
<rect x="970.8" y="674.9" width="0.7" height="0.7" fill="#dbe9fb"/>
<rect x="972.5" y="674.9" width="0.7" height="0.7" fill="#dbe9fb"/>
</g></g>
<g>
<circle cx="967.2" cy="675.3" r="7.65" fill="#fff" stroke="#f23645" stroke-width="1.3"/>
<clipPath id="f3"><circle cx="967.2" cy="675.3" r="6.2"/></clipPath>
<g clip-path="url(#f3)">
<rect x="961" y="669.1" width="12.4" height="2.48" fill="#f0524f"/>
<rect x="961" y="674.06" width="12.4" height="2.48" fill="#f0524f"/>
<rect x="961" y="679.02" width="12.4" height="2.48" fill="#f0524f"/>
<rect x="961" y="669.1" width="7.6" height="7.74" fill="#3f8bea"/>
<rect x="962.6" y="670.7" width="0.7" height="0.7" fill="#dbe9fb"/>
<rect x="964.3" y="670.7" width="0.7" height="0.7" fill="#dbe9fb"/>
<rect x="966" y="670.7" width="0.7" height="0.7" fill="#dbe9fb"/>
<rect x="967.7" y="670.7" width="0.7" height="0.7" fill="#dbe9fb"/>
<rect x="962.6" y="672.8" width="0.7" height="0.7" fill="#dbe9fb"/>
<rect x="964.3" y="672.8" width="0.7" height="0.7" fill="#dbe9fb"/>
<rect x="966" y="672.8" width="0.7" height="0.7" fill="#dbe9fb"/>
<rect x="967.7" y="672.8" width="0.7" height="0.7" fill="#dbe9fb"/>
<rect x="962.6" y="674.9" width="0.7" height="0.7" fill="#dbe9fb"/>
<rect x="964.3" y="674.9" width="0.7" height="0.7" fill="#dbe9fb"/>
<rect x="966" y="674.9" width="0.7" height="0.7" fill="#dbe9fb"/>
<rect x="967.7" y="674.9" width="0.7" height="0.7" fill="#dbe9fb"/>
</g></g>
<g>
<circle cx="961.8" cy="675.3" r="7.65" fill="#fff" stroke="#f23645" stroke-width="1.3"/>
<clipPath id="f4"><circle cx="961.8" cy="675.3" r="6.2"/></clipPath>
<g clip-path="url(#f4)">
<rect x="955.6" y="669.1" width="12.4" height="2.48" fill="#f0524f"/>
<rect x="955.6" y="674.06" width="12.4" height="2.48" fill="#f0524f"/>
<rect x="955.6" y="679.02" width="12.4" height="2.48" fill="#f0524f"/>
<rect x="955.6" y="669.1" width="7.6" height="7.74" fill="#3f8bea"/>
<rect x="957.2" y="670.7" width="0.7" height="0.7" fill="#dbe9fb"/>
<rect x="958.9" y="670.7" width="0.7" height="0.7" fill="#dbe9fb"/>
<rect x="960.6" y="670.7" width="0.7" height="0.7" fill="#dbe9fb"/>
<rect x="962.3" y="670.7" width="0.7" height="0.7" fill="#dbe9fb"/>
<rect x="957.2" y="672.8" width="0.7" height="0.7" fill="#dbe9fb"/>
<rect x="958.9" y="672.8" width="0.7" height="0.7" fill="#dbe9fb"/>
<rect x="960.6" y="672.8" width="0.7" height="0.7" fill="#dbe9fb"/>
<rect x="962.3" y="672.8" width="0.7" height="0.7" fill="#dbe9fb"/>
<rect x="957.2" y="674.9" width="0.7" height="0.7" fill="#dbe9fb"/>
<rect x="958.9" y="674.9" width="0.7" height="0.7" fill="#dbe9fb"/>
<rect x="960.6" y="674.9" width="0.7" height="0.7" fill="#dbe9fb"/>
<rect x="962.3" y="674.9" width="0.7" height="0.7" fill="#dbe9fb"/>
</g></g>
<circle cx="962.4" cy="655.9" r="7.85" fill="#fff" stroke="#9c27b0" stroke-width="1.3"/>
<path d="M964.9 651.4L959.3 656.6H962.3L960 660.4L965.6 655.1H962.7Z" fill="#9c27b0" stroke="#9c27b0" stroke-width="0.5" stroke-linejoin="round"/>
<path d="M1042.3 697.3L1045.1 692.4H1050.9L1053.7 697.3L1050.9 702.2H1045.1Z" fill="none" stroke="#2a2e39" stroke-width="0.9"/>
<circle cx="1048" cy="697.3" r="1.7" fill="none" stroke="#131722" stroke-width="1"/>
</svg>
</body></html>
